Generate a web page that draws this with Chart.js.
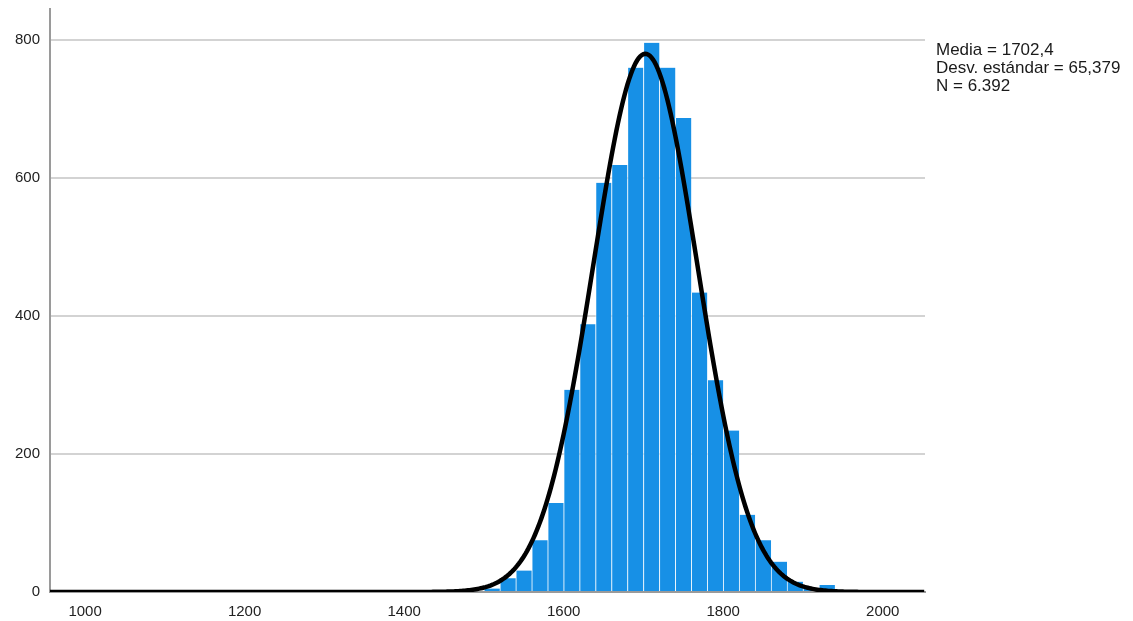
<!DOCTYPE html>
<html>
<head>
<meta charset="utf-8">
<script src="https://cdn.jsdelivr.net/npm/chart.js@4/dist/chart.umd.min.js"></script>
<style>
 html, body { margin: 0; padding: 0; background: #fff; overflow: hidden; }
 #wrap { width: 1133px; height: 631px; position: relative; margin-top: -10px; }
</style>
</head>
<body>
<div id="wrap"><canvas id="histChart"></canvas></div>
<script>
// histogram bins (lower edge of each 20-unit bin) and counts
const binStarts = [1500, 1520, 1540, 1560, 1580, 1600, 1620, 1640, 1660, 1680, 1700,
 1720, 1740, 1760, 1780, 1800, 1820, 1840, 1860, 1880, 1900, 1920];
const counts = [5, 20, 31, 75, 129, 293, 388, 593, 619, 760, 796,
 760, 687, 434, 307, 234, 112, 75, 44, 15, 5, 10];
const binWidth = 20;

// summary statistics shown at the right
const media = 1702.4;
const desv = 65.379;
const nTotal = 6392;
const statLabels = ["Media = 1702,4", "Desv. estándar = 65,379", "N = 6.392"];

const xTicks = [1000, 1200, 1400, 1600, 1800, 2000];
const yTicks = [0, 200, 400, 600, 800];
const xMin = 956, xMax = 2053;

document.addEventListener('DOMContentLoaded', function () {

 const barData = binStarts.map((s, i) => ({ x: s + binWidth / 2, y: counts[i] }));

 // normal curve scaled to counts per bin
 const curve = [];
 for (let x = xMin; x <= xMax; x += 2) {
  const z = (x - media) / desv;
  curve.push({ x: x, y: nTotal * binWidth / (desv * Math.sqrt(2 * Math.PI)) * Math.exp(-0.5 * z * z) });
 }

 // stats block to the right of the plot (canvas is shifted up 10px)
 const statsText = {
  id: 'statsText',
  afterDraw(chart) {
   const c = chart.ctx;
   c.save();
   c.fillStyle = '#1a1a1a';
   c.font = '17px "Liberation Sans", Arial, sans-serif';
   c.textBaseline = 'top';
   statLabels.forEach((t, i) => c.fillText(t, 936, 52 + i * 18));
   c.restore();
  }
 };

 const ctx = document.getElementById('histChart').getContext('2d');

 window.histChart = new Chart(ctx, {
  type: 'bar',
  data: {
   datasets: [
    {
     type: 'line',
     data: curve,
     borderColor: '#000',
     borderWidth: 4.5,
     pointRadius: 0,
     tension: 0,
     order: 0
    },
    {
     data: barData,
     backgroundColor: '#1790e6',
     borderColor: 'rgba(255,255,255,0.6)',
     borderWidth: { left: 1, right: 0, top: 0, bottom: 0 },
     barPercentage: 1,
     categoryPercentage: 1,
     order: 1
    }
   ]
  },
  options: {
   responsive: true,
   maintainAspectRatio: false,
   animation: false,
   layout: { padding: { top: 0, right: 208, left: 0, bottom: 0 } },
   plugins: { legend: { display: false }, tooltip: { enabled: false } },
   scales: {
    x: {
     type: 'linear',
     offset: false,
     min: xMin,
     max: xMax,
     afterFit: s => { s.height = 29; },
     afterBuildTicks: s => { s.ticks = xTicks.map(v => ({ value: v })); },
     grid: { display: false },
     border: { color: '#9a9a9a', width: 2 },
     ticks: {
      color: '#222',
      font: { family: '"Liberation Sans", Arial', size: 15 },
      padding: 3,
      maxRotation: 0,
      callback: v => String(v)
     }
    },
    y: {
     min: 0,
     max: 845,
     afterFit: s => { s.width = 50; },
     afterBuildTicks: s => { s.ticks = yTicks.map(v => ({ value: v })); },
     grid: { color: '#d3d3d3', lineWidth: 2, drawTicks: false },
     border: { color: '#9a9a9a', width: 2 },
     ticks: {
      color: '#222',
      font: { family: '"Liberation Sans", Arial', size: 15 },
      padding: 10,
      callback: v => String(v)
     }
    }
   }
  },
  plugins: [statsText]
 });

});
</script>
</body>
</html>
